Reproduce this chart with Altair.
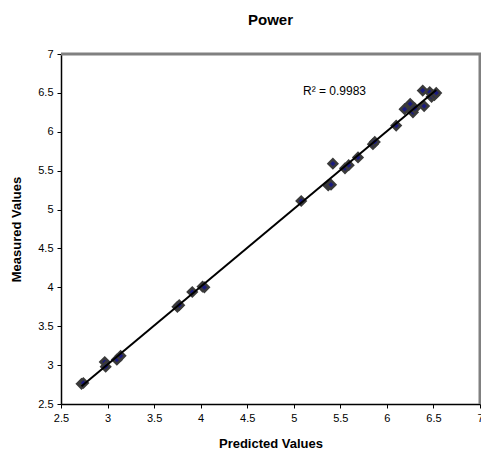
import altair as alt
import pandas as pd

predicted = [2.72, 2.74, 2.97, 2.98, 3.10, 3.14, 3.75, 3.77, 3.91, 4.02, 4.04,
             5.08, 5.37, 5.40, 5.42, 5.55, 5.59, 5.69, 5.85, 5.87, 6.10,
             6.19, 6.25, 6.28, 6.30, 6.385, 6.40, 6.46, 6.48, 6.51, 6.53]
measured = [2.76, 2.77, 3.04, 2.98, 3.07, 3.12, 3.75, 3.77, 3.94, 4.01, 4.00,
            5.11, 5.31, 5.32, 5.59, 5.53, 5.57, 5.67, 5.84, 5.87, 6.08,
            6.29, 6.36, 6.25, 6.30, 6.53, 6.33, 6.51, 6.45, 6.47, 6.50]
tick_values = [2.5, 3.0, 3.5, 4.0, 4.5, 5.0, 5.5, 6.0, 6.5, 7.0]
r2_label = ["R² = 0.9983"]

df = pd.DataFrame({"Predicted": predicted, "Measured": measured})

xscale = alt.Scale(domain=[2.5, 7], nice=False, zero=False)
yscale = alt.Scale(domain=[2.5, 7], nice=False, zero=False)

xaxis = alt.Axis(title="Predicted Values", values=tick_values, titlePadding=14,
                 labelOverlap=False, labelFlush=False, labelBound=False)
yaxis = alt.Axis(title="Measured Values", values=tick_values, titlePadding=14,
                 labelOverlap=False, labelFlush=False, labelBound=False)

base = alt.Chart(df)

top_border = alt.Chart(pd.DataFrame({"k": [0]})).mark_rule(
    color="#808080", strokeWidth=3).encode(
    x=alt.value(0), x2=alt.value(420), y=alt.value(0))
right_border = alt.Chart(pd.DataFrame({"k": [0]})).mark_rule(
    color="#808080", strokeWidth=3).encode(
    x=alt.value(419), y=alt.value(0), y2=alt.value(350))

points = base.mark_point(shape="diamond", filled=True, size=75, fill="#1a1a80",
                         stroke="#3a3a3a", strokeWidth=2.5, opacity=1).encode(
    x=alt.X("Predicted:Q", scale=xscale, axis=xaxis),
    y=alt.Y("Measured:Q", scale=yscale, axis=yaxis),
)

trend = base.transform_regression("Predicted", "Measured").mark_line(
    color="black", strokeWidth=2).encode(
    x=alt.X("Predicted:Q", scale=xscale, axis=xaxis),
    y=alt.Y("Measured:Q", scale=yscale, axis=yaxis),
)

label = alt.Chart(pd.DataFrame({"t": r2_label})).mark_text(
    font="Liberation Sans", fontSize=12, color="black", align="left", baseline="middle"
).encode(
    text="t:N",
    x=alt.value(242),
    y=alt.value(37),
)

chart = alt.layer(points, trend, label, top_border, right_border).properties(
    width=419, height=350,
    title=alt.TitleParams("Power", font="Liberation Sans", fontSize=15, fontWeight="bold",
                          color="black", anchor="middle", offset=20),
    autosize=alt.AutoSizeParams(type="none"),
    padding={"left": 61, "top": 54, "right": 1, "bottom": 53},
).configure_view(stroke=None).configure(background="white").configure_axis(
    grid=False, domainColor="black", domainWidth=1.5,
    tickColor="black", tickSize=4, labelFont="Liberation Sans",
    labelFontSize=11, labelColor="black", titleFont="Liberation Sans",
    titleFontSize=13, titleFontWeight="bold", titleColor="black",
    labelOverlap=False, labelPadding=4,
    labelExpr="format(datum.value, '~g')"
)

chart.save("out.html", embed_options={"renderer": "svg", "actions": False})
